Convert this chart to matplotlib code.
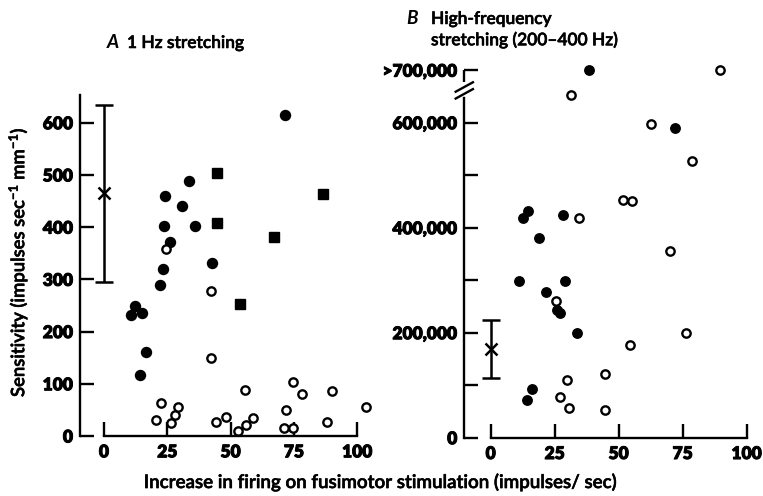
import matplotlib
matplotlib.use('Agg')
import matplotlib.pyplot as plt
import matplotlib.transforms as mtrans
import matplotlib.patheffects as pe

plt.rcParams['font.family'] = ['Lato', 'DejaVu Sans']
plt.rcParams['mathtext.fontset'] = 'custom'
plt.rcParams['mathtext.rm'] = 'Lato:semibold'
plt.rcParams['mathtext.it'] = 'Lato:italic'

# Panel A: 1 Hz stretching (sensitivity, impulses/sec/mm)
a_filled_x = [10.5, 12.2, 15.1, 16.4, 14.3, 22.1, 23.4, 23.6, 24.1, 26.1, 30.8, 33.7, 35.9, 42.8, 71.6]
a_filled_y = [231, 249, 236, 161, 117, 290, 320, 403, 459, 371, 440, 488, 403, 331, 615]
a_square_x = [44.6, 44.6, 53.8, 67.1, 86.4]
a_square_y = [503, 407, 253, 382, 463]
a_open_x = [24.3, 42.2, 42.1, 20.7, 22.4, 26.3, 28.2, 29.1, 44.1, 48.2, 53.0,
            55.9, 55.5, 58.7, 71.1, 72.0, 74.5, 74.6, 78.2, 88.0, 90.1, 103.6]
a_open_y = [359, 277, 150, 31, 63, 25, 40, 56, 27, 36, 10,
            22, 89, 34, 15, 50, 103, 16, 80, 27, 86, 55]
a_err_mean, a_err_low, a_err_high = 466, 294, 634

# Panel B: high-frequency stretching (thousands)
b_filled_x = [38.5, 71.9, 12.5, 14.6, 28.1, 19.0, 11.1, 29.0, 21.7, 26.0, 27.2, 33.9, 16.3, 14.3]
b_filled_y = [700, 590, 418, 432, 425, 380, 298, 298, 277, 243, 237, 199, 93, 72]
b_open_x = [89.6, 31.3, 62.8, 78.6, 51.7, 55.2, 34.4, 70.2, 25.7, 76.3, 54.3, 44.7, 29.7, 27.1, 30.7, 44.8]
b_open_y = [700, 653, 597, 528, 453, 450, 419, 356, 260, 199, 177, 121, 109, 77, 57, 52]
b_err_mean, b_err_low, b_err_high = 169, 113, 225

a_yticks = [0, 100, 200, 300, 400, 500, 600]
a_yticklabels = ['0', '100', '200', '300', '400', '500', '600']
b_yticks = [0, 100, 200, 300, 400, 500, 600, 700]
b_yticklabels = ['0', '', '200,000', '', '400,000', '', '600,000', '>700,000']
xticks = [0, 25, 50, 75, 100]
xticklabels = ['0', '25', '50', '75', '100']

W, H = 763, 496
fig = plt.figure(figsize=(W / 100, H / 100), dpi=100)


def box(left, right, bottom, top):
    return [left / W, 1 - bottom / H, (right - left) / W, (bottom - top) / H]


lw = 1.7
tick_kw = dict(direction='in', length=10, width=lw, colors='black')
thick = [pe.withStroke(linewidth=0.7, foreground='black')]
lab_kw = dict(fontsize=12.5, fontweight='heavy', path_effects=thick)


def style(ax, yticks, ylabels):
    for s in ['top', 'right']:
        ax.spines[s].set_visible(False)
    for s in ['left', 'bottom']:
        ax.spines[s].set_linewidth(lw)
    ax.spines['bottom'].set_bounds(0, 100)
    ax.tick_params(axis='x', pad=6, **tick_kw)
    ax.tick_params(axis='y', pad=5, **tick_kw)
    ax.set_xticks(xticks, labels=xticklabels, **lab_kw)
    ax.set_yticks(yticks, labels=ylabels, **lab_kw)


# ---- Panel A ----
axA = fig.add_axes(box(80, 382.6, 436, 91.4))
axA.set_xlim(-9.47, 110)
axA.set_ylim(0, 660)
style(axA, a_yticks, a_yticklabels)
axA.spines['left'].set_bounds(0, 653)
axA.plot(a_filled_x, a_filled_y, 'o', color='black', ms=7.2, clip_on=False)
axA.plot(a_square_x, a_square_y, 's', color='black', ms=6.8, clip_on=False)
axA.plot(a_open_x, a_open_y, 'o', mfc='white', mec='black', mew=1.7, ms=6, clip_on=False)
axA.errorbar([0], [a_err_mean], yerr=[[a_err_mean - a_err_low], [a_err_high - a_err_mean]],
             fmt='x', color='black', ms=8, mew=1.8, elinewidth=1.8, capsize=6.5, capthick=1.8,
             clip_on=False)

# ---- Panel B ----
axB = fig.add_axes(box(464.3, 751.8, 437.7, 59.7))
axB.set_xlim(-10.3, 102)
axB.set_ylim(0, 720)
style(axB, b_yticks, b_yticklabels)
axB.spines['left'].set_bounds(0, 647)
trans = mtrans.blended_transform_factory(axB.transAxes, axB.transData)
axB.plot([0, 0], [678, 700], color='black', lw=lw, transform=trans, clip_on=False,
         solid_capstyle='butt')
for yc in [668, 655]:
    axB.plot([-0.03, 0.03], [yc - 9, yc + 9], color='black', lw=lw, transform=trans,
             clip_on=False)
axB.plot(b_filled_x, b_filled_y, 'o', color='black', ms=6.8, clip_on=False)
axB.plot(b_open_x, b_open_y, 'o', mfc='white', mec='black', mew=1.7, ms=6, clip_on=False)
axB.errorbar([0], [b_err_mean], yerr=[[b_err_mean - b_err_low], [b_err_high - b_err_mean]],
             fmt='x', color='black', ms=8, mew=1.8, elinewidth=1.8, capsize=6.5, capthick=1.8,
             clip_on=False)

# ---- Text ----
soft = [pe.withStroke(linewidth=0.4, foreground='black')]
txt_kw = dict(fontsize=12.5, fontweight='semibold', va='center', path_effects=soft)
fig.text(107 / W, 1 - 43 / H, 'A', fontsize=13.5, fontweight='bold', fontstyle='italic', va='center')
fig.text(127 / W, 1 - 43 / H, '1 Hz stretching', **txt_kw)
fig.text(406 / W, 1 - 19 / H, 'B', fontsize=13.5, fontweight='bold', fontstyle='italic', va='center')
fig.text(431 / W, 1 - 19 / H, 'High-frequency', **txt_kw)
fig.text(431 / W, 1 - 40 / H, 'stretching (200\u2013400 Hz)', **txt_kw)
fig.text(18 / W, 1 - 262 / H, 'Sensitivity (impulses sec$^{-1}$ mm$^{-1}$)', fontsize=13.3,
         fontweight='semibold', rotation=90, ha='center', va='center', path_effects=soft)
fig.text(381 / W, 1 - 482 / H, 'Increase in firing on fusimotor stimulation (impulses/ sec)',
         fontsize=13.5, fontweight='semibold', ha='center', va='center', path_effects=soft)

fig.savefig('out.png', dpi=100)
